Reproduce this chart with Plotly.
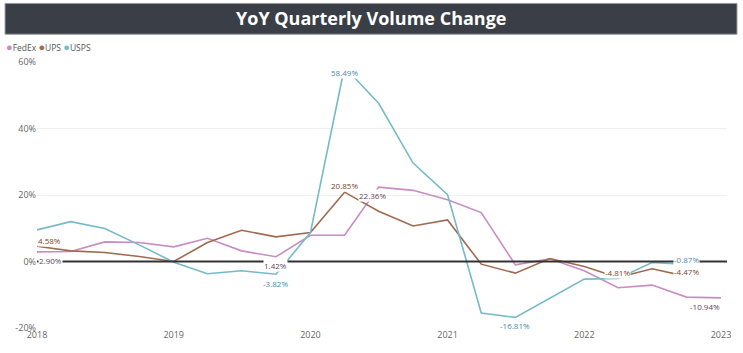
import plotly.graph_objects as go
import pandas as pd

# ---------------- data ----------------
quarters = [d.strftime("%Y-%m-%d") for d in pd.date_range("2018-01-01", "2023-01-01", freq="QS")]

fedex = [2.90, 3.0, 5.9, 5.7, 4.4, 7.0, 3.2, 1.42, 7.9, 7.9,
         22.36, 21.4, 18.6, 14.7, -1.0, 0.8, -2.8, -7.9, -7.1, -10.7, -10.94]
ups = [4.58, 3.2, 2.7, 1.5, 0.0, 5.7, 9.4, 7.4, 8.7, 20.85,
       15.1, 10.7, 12.5, -0.8, -3.5, 0.9, -1.5, -4.81, -2.2, -4.47]
usps = [9.5, 12.0, 9.9, 5.0, -0.2, -3.7, -2.8, -3.82, 8.7, 58.49,
        47.6, 29.6, 20.1, -15.5, -16.81, -11.0, -5.3, -5.1, -0.3, -0.87]

series_names = ["FedEx", "UPS", "USPS"]
series_values = [fedex, ups, usps]
line_colors = ["#C98CC4", "#A06A4E", "#76BAC9"]
label_colors = ["#5E3F5E", "#7A4428", "#4A8AAE"]

# labelled points: (series index, point index)
labelled = {
    0: [0, 7, 10, 20],
    1: [0, 9, 17, 19],
    2: [7, 9, 14, 19],
}

y_ticks = [-20, 0, 20, 40, 60]
y_tick_text = ["-20%", "0%", "20%", "40%", "60%"]
year_ticks = ["2018-01-01", "2019-01-01", "2020-01-01", "2021-01-01", "2022-01-01", "2023-01-01"]
year_text = ["2018", "2019", "2020", "2021", "2022", "2023"]

# ---------------- layout geometry ----------------
W, H = 743, 353
ML, MR, MT, MB = 37, 15, 62, 23
PW, PH = W - ML - MR, H - MT - MB


def px(x):
    return (x - ML) / PW


def py(y):
    return (H - MB - y) / PH


FONT = "Open Sans"

fig = go.Figure()
for name, vals, col in zip(series_names, series_values, line_colors):
    fig.add_trace(go.Scatter(
        x=quarters[:len(vals)], y=vals, mode="lines", name=name,
        line=dict(color=col, width=1.6), showlegend=False,
        hovertemplate="%{y:.2f}%<extra>" + name + "</extra>",
    ))

# label offsets (xshift, yshift, xanchor)
offsets = {
    (0, 0): (1, -9, "left"), (0, 7): (0, -9, "center"), (0, 10): (-6, -8, "center"),
    (0, 20): (0, -9, "right"),
    (1, 0): (0, 6, "left"), (1, 9): (0, 7, "center"), (1, 17): (0, 5, "center"),
    (1, 19): (0, 5, "center"),
    (2, 7): (0, -9, "center"), (2, 9): (0, -5, "center"), (2, 14): (0, -8, "center"),
    (2, 19): (0, 5, "center"),
}

annotations = []
for si, idxs in labelled.items():
    vals = series_values[si]
    for i in idxs:
        xs, ys, xa = offsets[(si, i)]
        annotations.append(dict(
            x=quarters[i], y=vals[i], xref="x", yref="y",
            text=f"{vals[i]:.2f}%", showarrow=False,
            xanchor=xa, yanchor="middle", xshift=xs, yshift=ys,
            font=dict(family=FONT, size=8, color=label_colors[si]),
            bgcolor="white", borderpad=0,
        ))

# title
annotations.append(dict(
    x=px((5 + 738) / 2), y=py(18), xref="paper", yref="paper",
    text="<b>YoY Quarterly Volume Change</b>", showarrow=False,
    xanchor="center", yanchor="middle",
    font=dict(family=FONT, size=18, color="white"),
))

# legend (text)
legend_text = " ".join(
    f'<span style="color:{c};font-size:11px">●</span>{n}' for n, c in zip(series_names, line_colors)
)
annotations.append(dict(
    x=px(4), y=py(46), xref="paper", yref="paper",
    text=legend_text, showarrow=False, xanchor="left", yanchor="middle",
    font=dict(family=FONT, size=8.5, color="#555555"),
))

shapes = [
    dict(type="rect", xref="paper", yref="paper",
         x0=px(5), x1=px(738), y0=py(34), y1=py(3),
         fillcolor="#3A3E46", line=dict(color="#9A9A9A", width=1), layer="below"),
    dict(type="line", xref="paper", yref="y", x0=0, x1=1, y0=0, y1=0,
         line=dict(color="#333333", width=2), layer="above"),
]

fig.update_layout(
    width=W, height=H,
    margin=dict(l=ML, r=MR, t=MT, b=MB),
    paper_bgcolor="white", plot_bgcolor="white",
    showlegend=False,
    annotations=annotations,
    shapes=shapes,
    font=dict(family=FONT, size=9, color="#666666"),
    xaxis=dict(
        type="date", range=["2018-01-01", "2023-01-17"],
        tickvals=year_ticks, ticktext=year_text,
        showgrid=False, zeroline=False, showline=False, ticks="",
        tickfont=dict(family=FONT, size=9, color="#666666"),
    ),
    yaxis=dict(
        range=[-20, 60], tickvals=y_ticks, ticktext=y_tick_text,
        showgrid=True, gridcolor="#EFEFEF", gridwidth=1,
        zeroline=False, showline=False, ticks="",
        tickfont=dict(family=FONT, size=9, color="#666666"),
    ),
)

fig.write_html("out.html")
